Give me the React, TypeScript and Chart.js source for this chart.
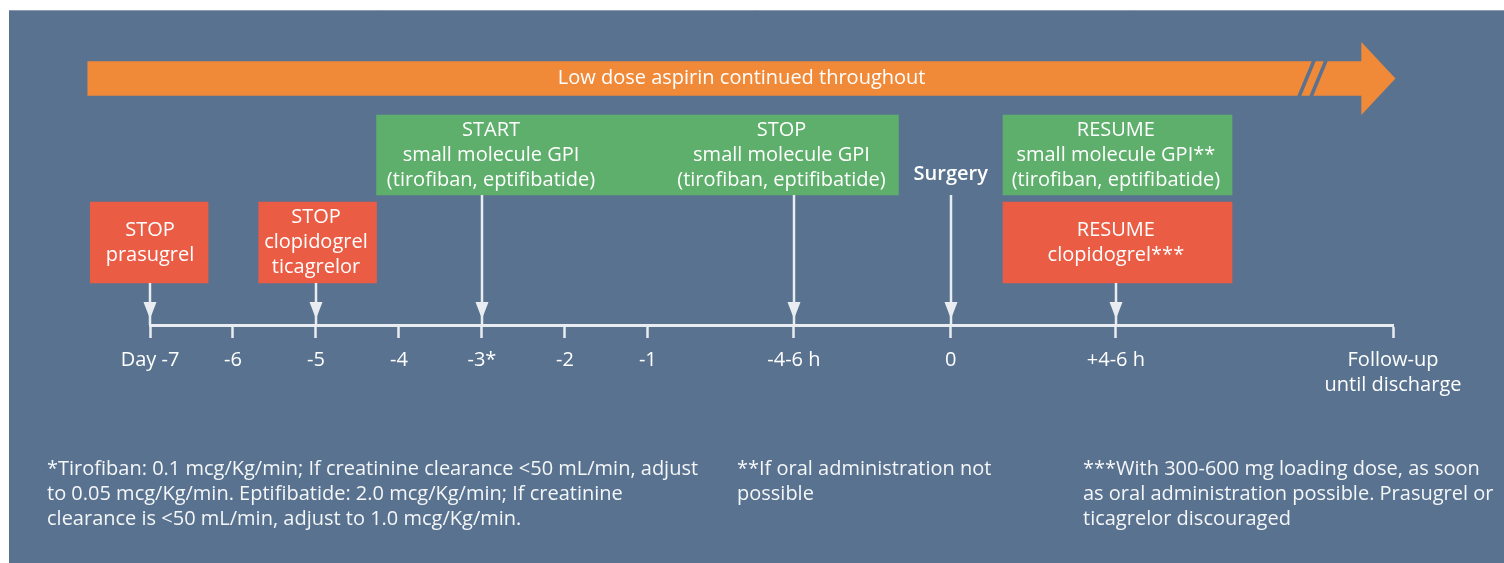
import { useEffect, useRef } from 'react';
import { Chart, registerables } from 'chart.js';

Chart.register(...registerables);

// ---------- Timeline axis ----------
const tickLabels: (string | string[])[] = [
  'Day -7', '-6', '-5', '-4', '-3*', '-2', '-1', '-4-6 h', '0', '+4-6 h',
  ['Follow-up', 'until discharge'],
];
// schematic positions of the ticks on the timeline (days are 1 unit apart)
const tickPositions = [-7, -6, -5, -4, -3, -2, -1, 0.76, 2.65, 4.64, 7.98];

// ---------- Boxes (floating bars on the timeline) ----------
const redBoxStarts = [-7.72, -5.69, 3.28];
const redBoxEnds = [-6.3, -4.27, 6.04];
const greenBoxStarts = [-4.27, 3.28];
const greenBoxEnds = [2.02, 6.04];
const aspirinSpan = [-7.75, 7.61]; // body of the aspirin arrow
const aspirinTip = 8.01;
const aspirinBreak = 6.92;
const aspirinLabel = 'Low dose aspirin continued throughout';

// ---------- Events (text blocks and pointer arrows) ----------
const eventLabels: string[][] = [
  ['STOP', 'prasugrel'],
  ['STOP', 'clopidogrel', 'ticagrelor'],
  ['START', 'small molecule GPI', '(tirofiban, eptifibatide)'],
  ['STOP', 'small molecule GPI', '(tirofiban, eptifibatide)'],
  ['Surgery'],
  ['RESUME', 'small molecule GPI**', '(tirofiban, eptifibatide)'],
  ['RESUME', 'clopidogrel***'],
];
const eventTextCenters = [-7, -5, -2.89, 0.61, 2.65, 4.64, 4.64];
const eventLanes = ['red', 'red', 'green', 'green', 'surgery', 'green', 'red'];
const pointerTargets: (number | null)[] = [-7, -5, -3, 0.76, 2.65, null, 4.64];

// ---------- Footnotes ----------
const footnotes: string[][] = [
  [
    '*Tirofiban: 0.1 mcg/Kg/min; If creatinine clearance <50 mL/min, adjust',
    'to 0.05 mcg/Kg/min. Eptifibatide: 2.0 mcg/Kg/min; If creatinine',
    'clearance is <50 mL/min, adjust to 1.0 mcg/Kg/min.',
  ],
  ['**If oral administration not', 'possible'],
  [
    '***With 300-600 mg loading dose, as soon',
    'as oral administration possible. Prasugrel or',
    'ticagrelor discouraged',
  ],
];

// ---------- Styles ----------
const BG = '#58728f';
const ORANGE = '#f08a39';
const RED = '#eb5c45';
const GREEN = '#5daf6b';
const AXIS = '#e9edf1';
const TEXT = '#ffffff';
const FONT = '"Open Sans", "Noto Sans", sans-serif';

// vertical layout of the lanes (y units = height above the axis)
const LANE: Record<string, { center: number; thickness: number }> = {
  red: { center: 82.5, thickness: 81 },
  green: { center: 170, thickness: 80 },
  aspirin: { center: 246.5, thickness: 34 },
  surgery: { center: 151, thickness: 40 },
};

const diagramPlugin = {
  id: 'diagram',
  beforeDraw(chart: any) {
    const { ctx, width, height } = chart;
    ctx.save();
    ctx.fillStyle = '#ffffff';
    ctx.fillRect(0, 0, width, height);
    ctx.fillStyle = BG;
    ctx.fillRect(9, 10, width - 9, height - 10);
    ctx.strokeStyle = '#8a9ab0';
    ctx.lineWidth = 1;
    ctx.beginPath();
    ctx.moveTo(9, 10.5);
    ctx.lineTo(width, 10.5);
    ctx.stroke();
    ctx.restore();
  },
  afterDatasetsDraw(chart: any) {
    const { ctx } = chart;
    const x = chart.scales.x;
    const y = chart.scales.y;
    ctx.save();

    // aspirin arrow head
    const a = LANE.aspirin;
    const bodyEnd = x.getPixelForValue(aspirinSpan[1]);
    const tip = x.getPixelForValue(aspirinTip);
    ctx.fillStyle = ORANGE;
    ctx.beginPath();
    ctx.moveTo(bodyEnd - 1, y.getPixelForValue(a.center + 36.5));
    ctx.lineTo(tip, y.getPixelForValue(a.center));
    ctx.lineTo(bodyEnd - 1, y.getPixelForValue(a.center - 36.5));
    ctx.closePath();
    ctx.fill();

    // break marks
    const bx = x.getPixelForValue(aspirinBreak);
    const top = y.getPixelForValue(a.center + a.thickness / 2) - 1;
    const bot = y.getPixelForValue(a.center - a.thickness / 2) + 1;
    ctx.strokeStyle = BG;
    ctx.lineWidth = 3.5;
    for (const off of [-6, 6]) {
      ctx.beginPath();
      ctx.moveTo(bx + off, bot);
      ctx.lineTo(bx + off + 15, top);
      ctx.stroke();
    }

    // aspirin label
    ctx.fillStyle = TEXT;
    ctx.textAlign = 'center';
    ctx.textBaseline = 'middle';
    ctx.font = `500 20px ${FONT}`;
    const lx = (x.getPixelForValue(aspirinSpan[0]) + tip) / 2;
    ctx.fillText(aspirinLabel, lx, y.getPixelForValue(a.center));

    // pointer arrows
    const axisY = y.getPixelForValue(0);
    ctx.strokeStyle = AXIS;
    ctx.fillStyle = AXIS;
    eventLabels.forEach((_, i) => {
      const t = pointerTargets[i];
      if (t === null) return;
      const lane = LANE[eventLanes[i] === 'surgery' ? 'green' : eventLanes[i]];
      const px = Math.round(x.getPixelForValue(t));
      const fromY = y.getPixelForValue(lane.center - lane.thickness / 2);
      ctx.lineWidth = 2.5;
      ctx.beginPath();
      ctx.moveTo(px, fromY);
      ctx.lineTo(px, axisY);
      ctx.stroke();
      ctx.beginPath();
      ctx.moveTo(px - 6.5, axisY - 23);
      ctx.lineTo(px + 6.5, axisY - 23);
      ctx.lineTo(px, axisY - 6);
      ctx.closePath();
      ctx.fill();
    });

    // event texts
    ctx.fillStyle = TEXT;
    eventLabels.forEach((lines, i) => {
      const lane = LANE[eventLanes[i]];
      const cx = x.getPixelForValue(eventTextCenters[i]);
      const cy = y.getPixelForValue(lane.center);
      const lh = 25;
      ctx.font = eventLanes[i] === 'surgery' ? `600 20px ${FONT}` : `500 20px ${FONT}`;
      lines.forEach((line, j) => {
        ctx.fillText(line, cx, cy + (j - (lines.length - 1) / 2) * lh);
      });
    });
    ctx.restore();
  },
  afterDraw(chart: any) {
    const { ctx } = chart;
    ctx.save();
    ctx.fillStyle = '#f4f6f8';
    ctx.textAlign = 'left';
    ctx.textBaseline = 'middle';
    ctx.font = `500 20px ${FONT}`;
    const xs = [47, 737, 1083];
    footnotes.forEach((lines, i) => {
      lines.forEach((line, j) => {
        ctx.fillText(line, xs[i], 469 + j * 25);
      });
    });
    ctx.restore();
  },
};

export default function App() {
  const canvasRef = useRef<HTMLCanvasElement | null>(null);

  useEffect(() => {
    if (!canvasRef.current) return;
    Chart.defaults.font.family = FONT;
    const chart = new Chart(canvasRef.current, {
      type: 'bar',
      data: {
        datasets: [
          {
            label: 'Low dose aspirin',
            data: [{ x: aspirinSpan, y: LANE.aspirin.center }] as any,
            backgroundColor: ORANGE,
            barThickness: LANE.aspirin.thickness,
            grouped: false,
            clip: false as any,
          },
          {
            label: 'P2Y12 inhibitors',
            data: redBoxStarts.map((s, i) => ({ x: [s, redBoxEnds[i]], y: LANE.red.center })) as any,
            backgroundColor: RED,
            barThickness: LANE.red.thickness,
            grouped: false,
            clip: false as any,
          },
          {
            label: 'Small molecule GPI',
            data: greenBoxStarts.map((s, i) => ({ x: [s, greenBoxEnds[i]], y: LANE.green.center })) as any,
            backgroundColor: GREEN,
            barThickness: LANE.green.thickness,
            grouped: false,
            clip: false as any,
          },
        ],
      },
      options: {
        indexAxis: 'y',
        responsive: false,
        animation: false,
        events: [],
        layout: { padding: { left: 150, right: 111, top: 10, bottom: 138 } },
        plugins: {
          legend: { display: false },
          tooltip: { enabled: false },
          title: { display: false },
        },
        scales: {
          x: {
            type: 'linear',
            min: -7,
            max: 7.98,
            offset: false,
            afterBuildTicks: (s: any) => {
              s.ticks = tickPositions.map((v) => ({ value: v }));
            },
            afterFit: (s: any) => {
              s.height = 100;
            },
            border: { display: true, color: AXIS, width: 3 },
            grid: {
              display: true,
              drawOnChartArea: false,
              drawTicks: true,
              tickLength: 13,
              tickWidth: 2.5,
              tickColor: AXIS,
              offset: false,
            },
            ticks: {
              autoSkip: false,
              maxRotation: 0,
              minRotation: 0,
              padding: 10,
              color: TEXT,
              font: { size: 20, weight: 500 as any, lineHeight: 1.25 },
              callback: (_v: any, i: number) => tickLabels[i],
            },
          },
          y: {
            type: 'linear',
            min: 0,
            max: 315,
            display: false,
            offset: false,
            grid: { offset: false },
          },
        },
      } as any,
      plugins: [diagramPlugin],
    });
    return () => chart.destroy();
  }, []);

  return (
    <div style={{ position: 'absolute', left: 0, top: 0, width: 1504, height: 563 }}>
      <canvas ref={canvasRef} width={1504} height={563} />
    </div>
  );
}
